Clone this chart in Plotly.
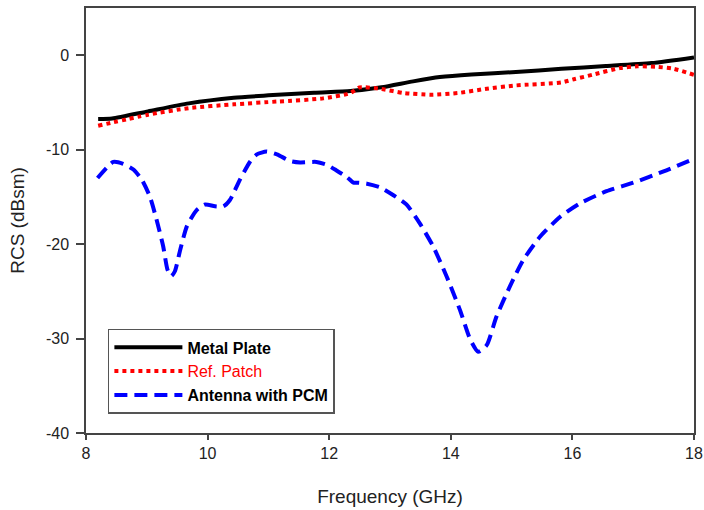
import plotly.graph_objects as go

# Metal Plate
metal_f = [8.2, 8.43, 9.02, 9.69, 10.43, 11.0, 11.75, 12.35, 12.86, 13.38, 13.82, 14.34, 15.07, 15.82, 16.55, 17.3, 18.0]
metal_rcs = [-6.76, -6.7, -5.95, -5.1, -4.5, -4.25, -3.97, -3.8, -3.4, -2.77, -2.31, -2.03, -1.78, -1.43, -1.15, -0.83, -0.23]

# Ref. Patch
ref_f = [8.2, 9.02, 9.69, 10.43, 11.16, 11.9, 12.35, 12.5, 12.86, 13.23, 13.67, 14.12, 14.56, 15.07, 15.82, 16.04, 16.33, 16.78, 17.07, 17.37, 17.66, 18.0]
ref_rcs = [-7.47, -6.3, -5.6, -5.2, -4.9, -4.57, -4.0, -3.4, -3.58, -4.0, -4.18, -4.0, -3.58, -3.2, -2.88, -2.52, -2.07, -1.36, -1.18, -1.22, -1.43, -2.07]

# Antenna with PCM
pcm_f = [8.19, 8.45, 8.61, 8.78, 8.92, 9.05, 9.16, 9.27, 9.34, 9.40, 9.46, 9.55, 9.66, 9.82, 9.96, 10.12, 10.26, 10.37, 10.53, 10.70, 10.81, 10.97, 11.14, 11.36, 11.52, 11.79, 11.96, 12.12, 12.29, 12.40, 12.46, 12.62, 12.84, 13.05, 13.27, 13.49, 13.71, 13.93, 14.15, 14.32, 14.45, 14.59, 14.75, 14.97, 15.19, 15.47, 15.80, 16.12, 16.56, 17.0, 17.5, 17.99]
pcm_rcs = [-13.0, -11.3, -11.5, -12.1, -13.2, -14.96, -17.4, -20.25, -22.7, -23.4, -22.9, -20.6, -18.1, -16.4, -15.8, -16.0, -16.0, -15.3, -13.2, -11.25, -10.5, -10.2, -10.5, -11.2, -11.35, -11.3, -11.6, -12.2, -12.9, -13.5, -13.5, -13.6, -14.0, -14.8, -15.8, -17.8, -20.25, -23.4, -26.96, -30.1, -31.4, -30.7, -27.7, -24.5, -21.7, -19.2, -17.1, -15.7, -14.4, -13.5, -12.3, -11.0]

x_ticks = [8, 10, 12, 14, 16, 18]
y_ticks = [-40, -30, -20, -10, 0]

FONT = "Liberation Sans, Arial, sans-serif"

fig = go.Figure()
fig.add_trace(go.Scatter(x=metal_f, y=metal_rcs, mode="lines", name="<b>Metal Plate</b>",
                         line=dict(color="#000000", width=4, shape="spline", smoothing=0.6)))
fig.add_trace(go.Scatter(x=ref_f, y=ref_rcs, mode="lines", name="<span style='color:#ff0000'>Ref. Patch</span>",
                         line=dict(color="#ff0000", width=4, dash="dot", shape="spline", smoothing=0.6)))
fig.add_trace(go.Scatter(x=pcm_f, y=pcm_rcs, mode="lines", name="<b>Antenna with PCM</b>",
                         line=dict(color="#0000ff", width=4, dash="13px,7px", shape="spline", smoothing=0.6)))

axis_common = dict(showline=True, linecolor="#444444", linewidth=1.5, mirror=True,
                   showgrid=False, zeroline=False, ticks="outside",
                   tickcolor="#444444", tickwidth=1.5, ticklabeloverflow="allow",
                   tickfont=dict(family=FONT, size=16, color="#222222"))

fig.update_layout(
    width=704, height=510,
    margin=dict(l=86, r=10, t=8, b=77, autoexpand=False),
    paper_bgcolor="white", plot_bgcolor="white",
    font=dict(family=FONT, color="#222222"),
    xaxis=dict(range=[8, 18], tickvals=x_ticks, ticktext=[str(v) for v in x_ticks],
               ticklen=5, ticklabelstandoff=0,
               title=dict(text="Frequency (GHz)", font=dict(family=FONT, size=19), standoff=29),
               **axis_common),
    yaxis=dict(range=[-40, 5], tickvals=y_ticks, ticktext=[str(v) for v in y_ticks],
               ticklen=8, ticklabelstandoff=4,
               title=dict(text="RCS (dBsm)", font=dict(family=FONT, size=19), standoff=16),
               **axis_common),
    legend=dict(x=0.036, y=0.245, xanchor="left", yanchor="top",
                bgcolor="white", bordercolor="#555555", borderwidth=1.5,
                font=dict(family=FONT, size=16, color="#000000"),
                itemwidth=68, tracegroupgap=0),
    showlegend=True,
)

# Remove the default page margin so the 704x510 figure fills the window exactly.
fig.write_html("out.html", config={"displayModeBar": False},
               post_script="document.body.style.margin='0';document.body.style.overflow='hidden';")
